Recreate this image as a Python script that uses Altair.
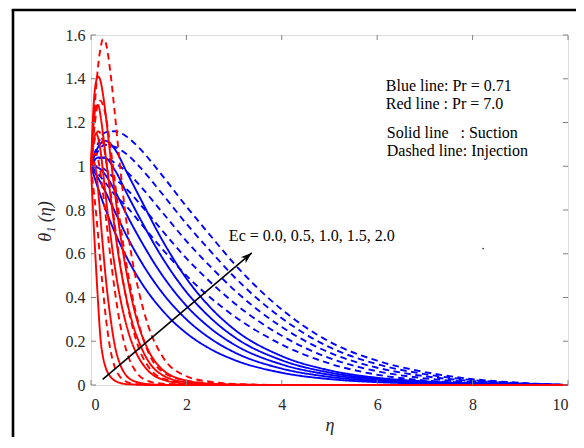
import altair as alt
import pandas as pd

# ---------------- data ----------------
eta_blue = [0, 0.15, 0.3, 0.5, 0.75, 1.0, 1.5, 2.0, 2.5, 3.0, 4.0, 5.0, 6.0, 7.0, 8.0, 9.0, 10.0]

# Pr = 0.71, suction (solid)
blue_suc_00 = [1, 0.898, 0.806, 0.698, 0.583, 0.487, 0.340, 0.237, 0.165, 0.115, 0.056, 0.027, 0.013, 0.0065, 0.0032, 0.0015, 0]
blue_suc_05 = [1, 0.946, 0.884, 0.793, 0.681, 0.582, 0.420, 0.300, 0.213, 0.150, 0.075, 0.037, 0.018, 0.009, 0.0045, 0.002, 0]
blue_suc_10 = [1, 0.993, 0.961, 0.888, 0.778, 0.677, 0.500, 0.362, 0.260, 0.185, 0.094, 0.047, 0.023, 0.0115, 0.0057, 0.0025, 0]
blue_suc_15 = [1, 1.040, 1.038, 0.983, 0.876, 0.772, 0.580, 0.425, 0.308, 0.220, 0.113, 0.057, 0.028, 0.014, 0.007, 0.003, 0]
blue_suc_20 = [1, 1.088, 1.116, 1.078, 0.973, 0.867, 0.660, 0.487, 0.355, 0.255, 0.132, 0.067, 0.033, 0.0165, 0.008, 0.0035, 0]

# Pr = 0.71, injection (dashed)
blue_inj_00 = [1, 0.965, 0.925, 0.870, 0.815, 0.750, 0.620, 0.500, 0.400, 0.315, 0.185, 0.098, 0.047, 0.021, 0.009, 0.003, 0]
blue_inj_05 = [1, 1.000, 0.983, 0.943, 0.895, 0.834, 0.704, 0.579, 0.471, 0.375, 0.225, 0.123, 0.063, 0.0305, 0.0135, 0.005, 0]
blue_inj_10 = [1, 1.035, 1.040, 1.015, 0.975, 0.918, 0.788, 0.658, 0.542, 0.435, 0.265, 0.148, 0.079, 0.040, 0.018, 0.0065, 0]
blue_inj_15 = [1, 1.070, 1.098, 1.088, 1.055, 1.002, 0.872, 0.737, 0.613, 0.495, 0.305, 0.173, 0.095, 0.0495, 0.0225, 0.008, 0]
blue_inj_20 = [1, 1.105, 1.155, 1.160, 1.135, 1.086, 0.956, 0.816, 0.684, 0.555, 0.345, 0.198, 0.111, 0.059, 0.027, 0.010, 0]

eta_red = [0, 0.05, 0.1, 0.15, 0.2, 0.25, 0.3, 0.4, 0.5, 0.6, 0.7, 0.8, 0.9, 1.0, 1.2, 1.5, 2.0, 2.5, 3.0, 4.0, 10.0]

# Pr = 7.0, suction (solid)
red_suc_00 = [1, 0.76, 0.56, 0.37, 0.21, 0.13, 0.085, 0.04, 0.02, 0.01, 0.005, 0.003, 0.002, 0.001, 0, 0, 0, 0, 0, 0, 0]
red_suc_05 = [1, 1.02, 0.99, 0.89, 0.76, 0.63, 0.51, 0.32, 0.18, 0.10, 0.055, 0.03, 0.018, 0.011, 0.004, 0.001, 0, 0, 0, 0, 0]
red_suc_10 = [1, 1.10, 1.15, 1.13, 1.07, 0.98, 0.88, 0.70, 0.54, 0.41, 0.31, 0.23, 0.17, 0.125, 0.065, 0.025, 0.006, 0.002, 0, 0, 0]
red_suc_15 = [1, 1.18, 1.27, 1.28, 1.23, 1.15, 1.06, 0.88, 0.71, 0.56, 0.44, 0.34, 0.26, 0.20, 0.11, 0.045, 0.012, 0.004, 0.001, 0, 0]
red_suc_20 = [1, 1.26, 1.38, 1.41, 1.39, 1.33, 1.25, 1.06, 0.88, 0.71, 0.57, 0.45, 0.35, 0.27, 0.16, 0.07, 0.02, 0.006, 0.002, 0, 0]

# Pr = 7.0, injection (dashed)
red_inj_00 = [1, 0.90, 0.80, 0.68, 0.55, 0.44, 0.33, 0.17, 0.08, 0.04, 0.02, 0.01, 0.005, 0.003, 0.001, 0, 0, 0, 0, 0, 0]
red_inj_05 = [1, 1.05, 1.06, 1.03, 0.97, 0.88, 0.79, 0.60, 0.43, 0.29, 0.19, 0.12, 0.075, 0.045, 0.018, 0.006, 0.002, 0, 0, 0, 0]
red_inj_10 = [1, 1.09, 1.14, 1.16, 1.15, 1.11, 1.05, 0.90, 0.73, 0.57, 0.44, 0.33, 0.24, 0.17, 0.085, 0.03, 0.01, 0.004, 0.001, 0, 0]
red_inj_15 = [1, 1.13, 1.23, 1.29, 1.30, 1.28, 1.24, 1.10, 0.93, 0.76, 0.61, 0.48, 0.37, 0.28, 0.15, 0.06, 0.02, 0.008, 0.003, 0, 0]
red_inj_20 = [1, 1.18, 1.34, 1.46, 1.54, 1.58, 1.57, 1.44, 1.24, 1.02, 0.82, 0.66, 0.53, 0.43, 0.27, 0.13, 0.04, 0.015, 0.005, 0, 0]

ec_values = ["0.0", "0.5", "1.0", "1.5", "2.0"]
x_ticks = [0, 2, 4, 6, 8, 10]
y_ticks = [0, 0.2, 0.4, 0.6, 0.8, 1.0, 1.2, 1.4, 1.6]

arrow_eta = [0.245, 3.37]
arrow_theta = [0.026, 0.604]

ann_text = ["Blue line: Pr = 0.71", "Red line : Pr = 7.0",
            "Solid line\u00a0\u00a0\u00a0: Suction", "Dashed line: Injection"]
ann_eta = [6.18, 6.18, 6.2, 6.2]
ann_theta = [1.345, 1.261, 1.128, 1.045]

ec_text = "Ec = 0.0, 0.5, 1.0, 1.5, 2.0"
ec_eta = 2.89
ec_theta = 0.657

dot_eta = [8.22]
dot_theta = [0.624]

# ---------------- build tables ----------------
def build(eta, series, pr, mode):
    rows = []
    for ec, vals in zip(ec_values, series):
        for e, v in zip(eta, vals):
            rows.append({"eta": e, "theta": v, "pr": pr, "mode": mode, "ec": ec,
                         "key": f"{pr}-{mode}-{ec}"})
    return rows

blue_rows = (build(eta_blue, [blue_suc_00, blue_suc_05, blue_suc_10, blue_suc_15, blue_suc_20], "0.71", "Suction")
             + build(eta_blue, [blue_inj_00, blue_inj_05, blue_inj_10, blue_inj_15, blue_inj_20], "0.71", "Injection"))
red_rows = (build(eta_red, [red_suc_00, red_suc_05, red_suc_10, red_suc_15, red_suc_20], "7.0", "Suction")
            + build(eta_red, [red_inj_00, red_inj_05, red_inj_10, red_inj_15, red_inj_20], "7.0", "Injection"))
df_blue = pd.DataFrame(blue_rows)
df_red = pd.DataFrame(red_rows)

W, H = 477, 350
PL, PT, PR, PB = 83, 27, 8, 52
FONT = "Liberation Serif"
AX = "#808080"
TXT = "#262626"

xs = alt.Scale(domain=[0, 10], nice=False, zero=False)
ys = alt.Scale(domain=[0, 1.6], nice=False, zero=False)
dash = alt.Scale(domain=["Suction", "Injection"], range=[[1, 0], [6.5, 4.5]])

xaxis = alt.Axis(values=x_ticks, format="d", ticks=False, domain=False, grid=False,
                 labelFont=FONT, labelFontSize=16, labelColor=TXT, labelPadding=11,
                 title="η", titleFont=FONT, titleFontSize=18, titleFontStyle="italic",
                 titleFontWeight="normal", titleColor=TXT, titlePadding=4)
yaxis = alt.Axis(values=y_ticks, format="~g", ticks=False, domain=False, grid=False,
                 labelFont=FONT, labelFontSize=16, labelColor=TXT, labelPadding=6,
                 title="θ₁ (η)", titleFont=FONT, titleFontSize=18, titleFontStyle="italic",
                 titleFontWeight="normal", titleColor=TXT, titlePadding=11, titleY=186)

blue = alt.Chart(df_blue).mark_line(color="#0000ff", strokeWidth=1.9, interpolate="monotone").encode(
    x=alt.X("eta:Q", scale=xs, axis=xaxis),
    y=alt.Y("theta:Q", scale=ys, axis=yaxis),
    strokeDash=alt.StrokeDash("mode:N", scale=dash, legend=None),
    detail="key:N",
)
red = alt.Chart(df_red).mark_line(color="#ff0000", strokeWidth=1.9, interpolate="monotone").encode(
    x=alt.X("eta:Q", scale=xs),
    y=alt.Y("theta:Q", scale=ys),
    strokeDash=alt.StrokeDash("mode:N", scale=dash, legend=None),
    detail="key:N",
)

df_xt = pd.DataFrame({"v": x_ticks})
df_yt = pd.DataFrame({"v": y_ticks})
tick_b = alt.Chart(df_xt).mark_rule(color=AX).encode(x=alt.X("v:Q", scale=xs), y=alt.value(H), y2=alt.value(H - 5))
tick_t = alt.Chart(df_xt).mark_rule(color=AX).encode(x=alt.X("v:Q", scale=xs), y=alt.value(0), y2=alt.value(5))
tick_l = alt.Chart(df_yt).mark_rule(color=AX).encode(y=alt.Y("v:Q", scale=ys), x=alt.value(0), x2=alt.value(5))
tick_r = alt.Chart(df_yt).mark_rule(color=AX).encode(y=alt.Y("v:Q", scale=ys), x=alt.value(W), x2=alt.value(W - 5))

df_arrow = pd.DataFrame({"eta": arrow_eta, "theta": arrow_theta})
shaft = alt.Chart(df_arrow).mark_line(color="black", strokeWidth=1.6).encode(
    x=alt.X("eta:Q", scale=xs), y=alt.Y("theta:Q", scale=ys))
head = alt.Chart(df_arrow.tail(1)).mark_point(
    shape="M0,0 L0.55,1.6 L0,1.15 L-0.55,1.6 Z", filled=True, color="black",
    size=200, angle=49.8, opacity=1).encode(
    x=alt.X("eta:Q", scale=xs), y=alt.Y("theta:Q", scale=ys))

df_ann = pd.DataFrame({"eta": ann_eta, "theta": ann_theta, "t": ann_text})
ann = alt.Chart(df_ann).mark_text(font=FONT, fontSize=16, align="left", baseline="alphabetic", color="black").encode(
    x=alt.X("eta:Q", scale=xs), y=alt.Y("theta:Q", scale=ys), text="t:N")

df_ec = pd.DataFrame({"eta": [ec_eta], "theta": [ec_theta], "t": [ec_text]})
ec = alt.Chart(df_ec).mark_text(font=FONT, fontSize=16, align="left", baseline="alphabetic", color="black").encode(
    x=alt.X("eta:Q", scale=xs), y=alt.Y("theta:Q", scale=ys), text="t:N")

df_dot = pd.DataFrame({"eta": dot_eta, "theta": dot_theta})
dot = alt.Chart(df_dot).mark_circle(color="#333333", size=3, opacity=1).encode(
    x=alt.X("eta:Q", scale=xs), y=alt.Y("theta:Q", scale=ys))

# outer figure frame: only its left and top edges fall inside the picture
frame_left = alt.Chart(df_xt.head(1)).mark_rule(color="black", strokeWidth=2.6).encode(
    x=alt.value(-78), y=alt.value(-25), y2=alt.value(H + PB))
frame_top = alt.Chart(df_xt.head(1)).mark_rule(color="black", strokeWidth=2.6).encode(
    x=alt.value(-79.3), x2=alt.value(W + PR), y=alt.value(-25))

chart = alt.layer(frame_left, frame_top, blue, red, tick_b, tick_t, tick_l, tick_r,
                  shaft, head, ann, ec, dot).properties(
    width=W, height=H,
    autosize=alt.AutoSizeParams(type="none"),
    padding={"left": PL, "top": PT, "right": PR, "bottom": PB},
).configure_view(stroke=AX, strokeWidth=1).configure(background="white")

chart.save("out.html", embed_options={"renderer": "svg", "actions": False})
